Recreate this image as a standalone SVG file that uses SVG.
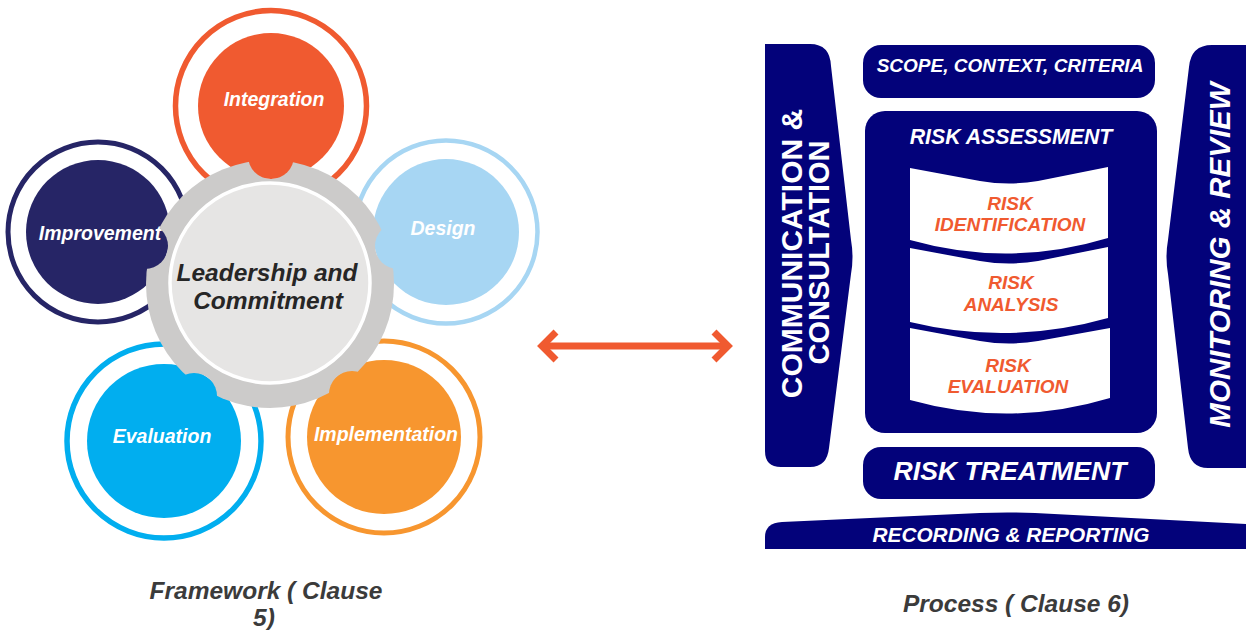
<svg xmlns="http://www.w3.org/2000/svg" width="1246" height="630" viewBox="0 0 1246 630">
<style>
.t{font-family:"Liberation Sans",Arial,sans-serif;font-weight:bold;font-style:italic;}
.up{font-style:normal;}
.c{text-anchor:middle;}
.w{fill:#ffffff;}
.o{fill:#f05a30;}
.g{fill:#3b3b3b;}
.navy{fill:#03027a;}
.panel{fill:#ffffff;}
.ring{fill:none;}
.petal{font-size:19.5px;}
</style>
<defs>
<mask id="gearMask" maskUnits="userSpaceOnUse" x="0" y="0" width="1246" height="630">
<rect x="0" y="0" width="1246" height="630" fill="#fff"/>
<circle cx="271" cy="156" r="23" fill="#000"/>
<circle cx="398" cy="246" r="23" fill="#000"/>
<circle cx="145" cy="246" r="23" fill="#000"/>
<circle cx="194" cy="396" r="23" fill="#000"/>
<circle cx="352" cy="394" r="23" fill="#000"/>
</mask>
<marker id="chev" viewBox="0 0 20 30" refX="15" refY="15" markerWidth="20" markerHeight="30" markerUnits="userSpaceOnUse" orient="auto-start-reverse" overflow="visible">
<path d="M1,1 L15,15 L1,29" fill="none" stroke="#f05a30" stroke-width="7" stroke-linejoin="miter"/>
</marker>
</defs>
<rect x="0" y="0" width="1246" height="630" fill="#ffffff"/>

<!-- Framework petals -->
<g id="node-integration">
<circle class="ring" cx="271" cy="106" r="95.5" stroke="#f05a30" stroke-width="5.5"/>
<circle cx="271" cy="106" r="73" fill="#f05a30"/>
<text class="t w c petal" x="274" y="106">Integration</text>
</g>
<g id="node-design">
<circle class="ring" cx="446" cy="232" r="91.5" stroke="#a7d6f3" stroke-width="4.5"/>
<circle cx="446" cy="232" r="73" fill="#a7d6f3"/>
<text class="t w c petal" x="443" y="235">Design</text>
</g>
<g id="node-improvement">
<circle class="ring" cx="98" cy="232" r="90" stroke="#262566" stroke-width="5"/>
<circle cx="98" cy="232" r="72" fill="#262566"/>
<text class="t w c petal" x="100" y="240">Improvement</text>
</g>
<g id="node-evaluation">
<circle class="ring" cx="164" cy="441" r="97" stroke="#01aeef" stroke-width="5.5"/>
<circle cx="164" cy="441" r="77" fill="#01aeef"/>
<text class="t w c petal" x="162" y="443">Evaluation</text>
</g>
<g id="node-implementation">
<circle class="ring" cx="384" cy="437" r="96" stroke="#f7962f" stroke-width="5"/>
<circle cx="384" cy="437" r="77" fill="#f7962f"/>
<text class="t w c petal" x="386" y="441">Implementation</text>
</g>

<!-- Central gear -->
<g id="node-leadership">
<circle cx="270" cy="284" r="124" fill="#cccbca" mask="url(#gearMask)"/>
<circle cx="270" cy="283" r="100" fill="#e6e5e4" stroke="#ffffff" stroke-width="3.5"/>
<text class="t c" x="267" y="281" font-size="24.5" fill="#262626">Leadership and</text>
<text class="t c" x="268" y="309" font-size="24.5" fill="#262626">Commitment</text>
</g>

<!-- Process side -->
<g id="node-communication">
<path class="navy" d="M765,44 H810 Q830,44 831,66 L851,240 Q854,257 851,274 L829,448 Q827,467 810,467 H781 Q765,467 765,451 Z"/>
<text class="t up w c" font-size="30" transform="translate(802,253.5) rotate(-90)">COMMUNICATION &amp;</text>
<text class="t up w c" font-size="29" transform="translate(829,252.5) rotate(-90)">CONSULTATION</text>
</g>
<g id="node-monitoring">
<path class="navy" d="M1246,45 H1212 Q1191,45 1189,67 L1168,240 Q1165,257 1168,274 L1188,448 Q1190,468 1208,468 H1246 Z"/>
<text class="t w c" font-size="29.5" transform="translate(1230,255) rotate(-90)">MONITORING &amp; REVIEW</text>
</g>
<g id="node-scope">
<rect class="navy" x="863" y="45" width="292" height="53" rx="18"/>
<text class="t w c" x="1010" y="72" font-size="19">SCOPE, CONTEXT, CRITERIA</text>
</g>
<g id="node-assessment">
<rect class="navy" x="865" y="111" width="292" height="322" rx="20"/>
<text class="t w c" x="1011" y="144" font-size="21.3">RISK ASSESSMENT</text>
</g>
<g id="node-identification">
<path class="panel" d="M910,168 L980,181 Q1009,186 1038,181 L1108,167 V238 Q1009,268 910,240 Z"/>
<text class="t o c" x="1010" y="210" font-size="19">RISK</text>
<text class="t o c" x="1010" y="231" font-size="19">IDENTIFICATION</text>
</g>
<g id="node-analysis">
<path class="panel" d="M910,248 L980,261 Q1009,266 1038,261 L1108,247 V318 Q1009,346 910,322 Z"/>
<text class="t o c" x="1011" y="289" font-size="19">RISK</text>
<text class="t o c" x="1011" y="311" font-size="19">ANALYSIS</text>
</g>
<g id="node-risk-evaluation">
<path class="panel" d="M910,328 L980,341 Q1009,346 1038,341 L1110,328 V398 Q1010,428 910,400 Z"/>
<text class="t o c" x="1008" y="372" font-size="19">RISK</text>
<text class="t o c" x="1008" y="393" font-size="19">EVALUATION</text>
</g>
<g id="node-treatment">
<rect class="navy" x="863" y="447" width="292" height="52" rx="18"/>
<text class="t w c" x="1010" y="480" font-size="26.6">RISK TREATMENT</text>
</g>
<g id="node-recording">
<path class="navy" d="M765,549 V537 Q765,523 782,522 L980,513 Q1007,512 1035,513 L1246,524 V549 Z"/>
<text class="t w c" x="1011" y="542" font-size="20.8">RECORDING &amp; REPORTING</text>
</g>

<!-- Connectors -->
<g id="connectors">
<line x1="542" y1="346" x2="728" y2="346" stroke="#f05a30" stroke-width="7" marker-start="url(#chev)" marker-end="url(#chev)"/>
</g>

<!-- Captions -->
<g id="label-framework">
<text class="t g c" x="266" y="599" font-size="24.5">Framework ( Clause</text>
<text class="t g c" x="264" y="626" font-size="24.5">5)</text>
</g>
<g id="label-process">
<text class="t g c" x="1016" y="612" font-size="24.5">Process ( Clause 6)</text>
</g>
</svg>
